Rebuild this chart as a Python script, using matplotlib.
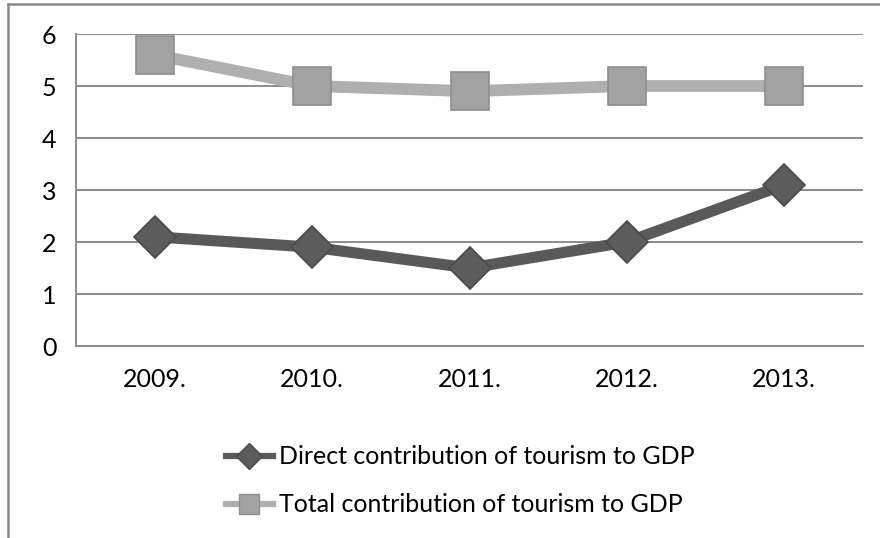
import numpy as np
import matplotlib.pyplot as plt
from matplotlib.lines import Line2D

plt.rcParams['font.family'] = ['Lato', 'DejaVu Sans']

years = ['2009.', '2010.', '2011.', '2012.', '2013.']
direct = [2.1, 1.9, 1.5, 2.0, 3.1]
total = [5.6, 5.0, 4.9, 5.0, 5.0]
labels = ['Direct contribution of tourism to GDP',
          'Total contribution of tourism to GDP']

fig = plt.figure(figsize=(8.8, 5.38), dpi=100)
ax = fig.add_axes([76 / 880, 1 - 346 / 538, 787 / 880, 312 / 538])

x = np.arange(len(years))
grid_c = '#8c8c8c'

# horizontal gridlines
for v in range(1, 7):
    ax.axhline(v, color=grid_c, lw=1.4, zorder=1)

ax.plot(x, total, color='#afafaf', lw=8.5, zorder=3, solid_joinstyle='round')
ax.plot(x, total, ls='none', marker='s', ms=27, mfc='#a2a2a2', mec='#8e8e8e',
        mew=1.2, zorder=4)
ax.plot(x, direct, color='#595959', lw=8, zorder=3, solid_joinstyle='round')
ax.plot(x, direct, ls='none', marker='D', ms=21, mfc='#5c5c5c', mec='#4a4a4a',
        mew=1.2, zorder=4)

ax.set_xlim(-0.5, len(years) - 0.5)
ax.set_ylim(0, 6)
ax.set_yticks(range(0, 7))
ax.set_xticks(x)
ax.set_xticklabels(years)
ax.tick_params(length=0, labelsize=18, colors='black')
ax.tick_params(axis='y', pad=14)
ax.tick_params(axis='x', pad=16)

for side in ['top', 'right']:
    ax.spines[side].set_visible(False)
for side in ['left', 'bottom']:
    ax.spines[side].set_color(grid_c)
    ax.spines[side].set_linewidth(1.4)

handles = [
    Line2D([], [], color='#595959', lw=4.5, marker='D', ms=13,
           mfc='#5c5c5c', mec='#4a4a4a'),
    Line2D([], [], color='#afafaf', lw=4.5, marker='s', ms=15,
           mfc='#a2a2a2', mec='#8e8e8e'),
]
fig.legend(handles, labels, loc='upper left', bbox_to_anchor=(213 / 880, 1 - 433 / 538),
           frameon=False, fontsize=18, handlelength=1.9, handletextpad=0.25,
           labelspacing=1.0, borderpad=0)

# outer chart frame
fig.add_artist(Line2D([8 / 880, 8 / 880], [0, 1 - 4 / 538], color='#8a8a8a',
                      lw=1.8, transform=fig.transFigure))
fig.add_artist(Line2D([8 / 880, 1], [1 - 4 / 538, 1 - 4 / 538], color='#8a8a8a',
                      lw=1.8, transform=fig.transFigure))

fig.savefig('out.png', dpi=100)
